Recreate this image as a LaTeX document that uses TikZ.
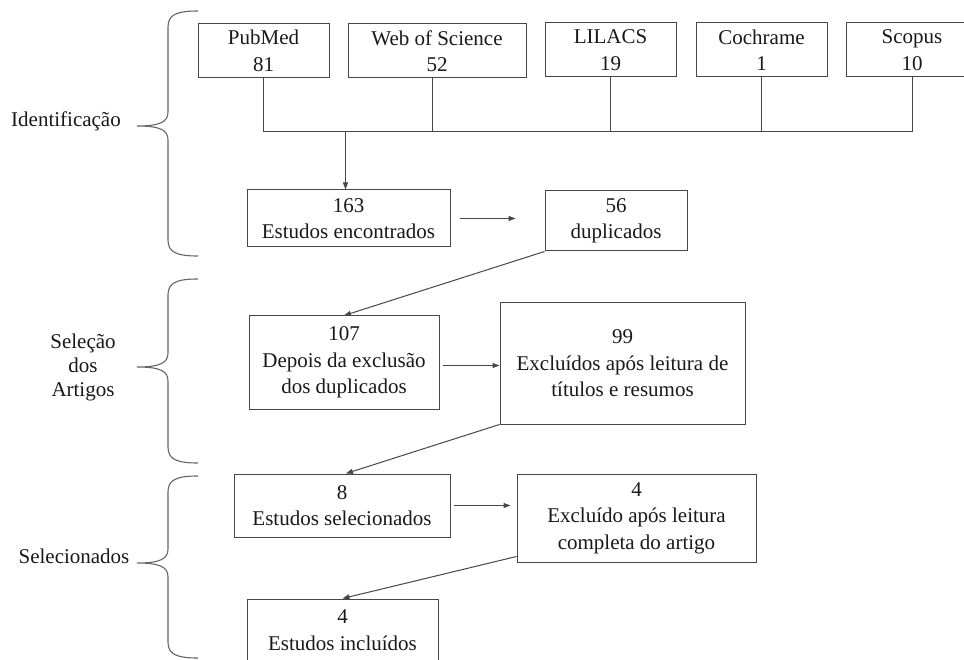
\documentclass[tikz,border=0pt]{standalone}
\usepackage{fontspec}
\setmainfont{Liberation Serif}
\newfontfamily\tnr{Liberation Serif}
\usetikzlibrary{arrows.meta,calc}
\tikzset{
  box/.style={draw=black!72, line width=1pt, inner sep=0pt, align=center,
    font=\tnr\fontsize{21}{26.5}\selectfont, text=black!90},
  lab/.style={inner sep=0pt, align=center, font=\tnr\fontsize{21}{24}\selectfont, text=black!90},
  conn/.style={draw=black!72, line width=1pt},
  arr/.style={conn, -{Triangle[length=7pt,width=5pt]}},
  bracestyle/.style={draw=black!60, line width=1.1pt}
}
\newcommand\mybrace[3]{%
  \draw[bracestyle] (198,#1) .. controls (176,#1) and (168,#1+4) .. (168,#1+16)
    -- (168,#2-14) .. controls (168,#2-4) and (160,#2) .. (137,#2)
    .. controls (160,#2) and (168,#2+4) .. (168,#2+14)
    -- (168,#3-16) .. controls (168,#3-4) and (176,#3) .. (198,#3);}
\begin{document}
\begin{tikzpicture}[x=1pt,y=-1pt]
\useasboundingbox (0,0) rectangle (964,660);
\clip (0,0) rectangle (964,660);
\fill[white] (0,0) rectangle (964,660);

% braces and stage labels
\mybrace{11}{126}{256}
\mybrace{279}{367}{463}
\mybrace{476}{563}{658}
\node[lab, anchor=base] (lid) at (66,127) {Identificação};
\node[lab] (lsel) at (83,367) {Seleção\\dos\\Artigos};
\node[lab, anchor=base] (lsn) at (74,563) {Selecionados};

% databases
\node[box, minimum width=131, minimum height=54] (pub) at (263.5,51) {PubMed\\81};
\node[box, minimum width=178, minimum height=54] (wos) at (437,51) {Web of Science\\52};
\node[box, minimum width=131, minimum height=54] (lil) at (610.5,50) {LILACS\\19};
\node[box, minimum width=131, minimum height=54] (coc) at (761.5,50) {Cochrame\\1};
\node[box, minimum width=132, minimum height=54] (sco) at (912,50) {Scopus\\10};

% flow boxes
\node[box, minimum width=203, minimum height=57] (found) at (348.5,218.5) {163\\Estudos encontrados};
\node[box, minimum width=142, minimum height=60] (dup) at (616,221) {56\\duplicados};
\node[box, minimum width=190, minimum height=93] (after) at (344,362.5) {107\\Depois da exclusão\\dos duplicados};
\node[box, minimum width=245, minimum height=121] (exa) at (622.5,363.5) {99\\Excluídos após leitura de\\títulos e resumos};
\node[box, minimum width=216, minimum height=63] (sel) at (342,505.5) {8\\Estudos selecionados};
\node[box, minimum width=239, minimum height=88] (exb) at (636.5,518) {4\\Excluído após leitura\\completa do artigo};
\node[box, minimum width=191, minimum height=62] (inc) at (342.5,630) {4\\Estudos incluídos};

% bus
\coordinate (bus) at (0,132);
\draw[conn] (pub.south) -- (pub.south |- bus);
\draw[conn] ([xshift=-5pt]wos.south) -- ([xshift=-5pt]wos.south |- bus);
\draw[conn] (lil.south) -- (lil.south |- bus);
\draw[conn] (coc.south) -- (coc.south |- bus);
\draw[conn] (sco.south) -- (sco.south |- bus);
\draw[conn] (pub.south |- bus) -- (sco.south |- bus);
\draw[arr] ([xshift=-3pt]found.north |- bus) -- ([xshift=-3pt]found.north);

% flow arrows
\draw[arr, shorten <=9pt, shorten >=29pt] (found.east) -- (found.east -| dup.west);
\draw[arr] (dup.south west) -- (after.north);
\draw[arr, shorten <=3pt] ([yshift=-3pt]after.east) -- ([yshift=-3pt]after.east -| exa.west);
\draw[arr] (exa.south west) -- ([xshift=4pt]sel.north);
\draw[arr, shorten <=3pt, shorten >=6pt] (sel.east) -- (sel.east -| exb.west);
\draw[arr] ([yshift=6pt]exb.south west) -- (inc.north);
\end{tikzpicture}
\end{document}
